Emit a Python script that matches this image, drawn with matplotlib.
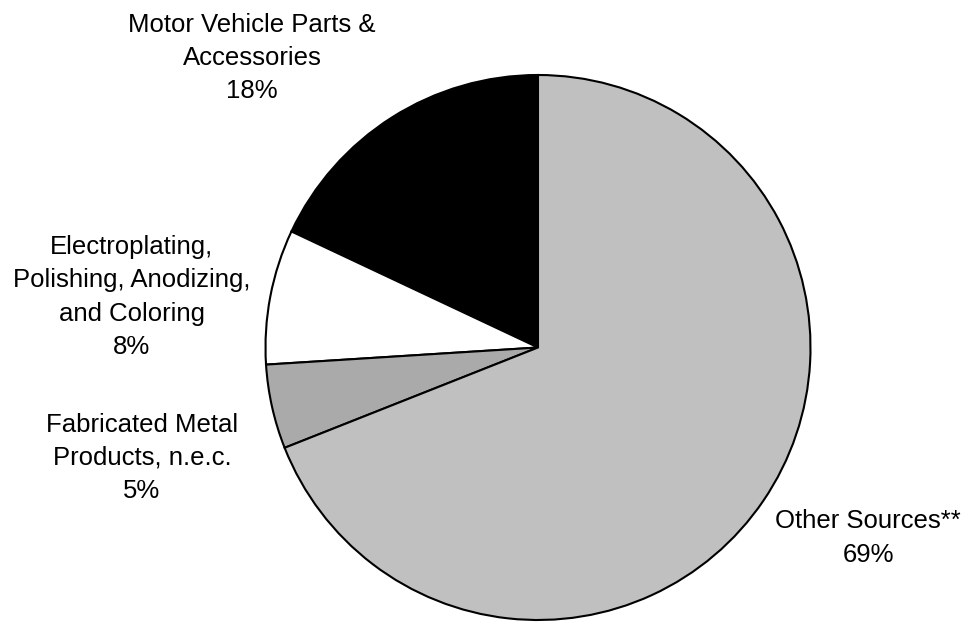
import matplotlib.pyplot as plt

# slices, counterclockwise from 12 o'clock
labels = ['Motor Vehicle Parts &\nAccessories', 'Electroplating,\nPolishing, Anodizing,\nand Coloring',
          'Fabricated Metal\nProducts, n.e.c.', 'Other Sources**']
shares = [18, 8, 5, 69]
colors = ['#000000', '#FFFFFF', '#AAAAAA', '#C0C0C0']
# label centres in pixels (x, y from top)
label_pos = [(252, 58), (132, 297), (142, 458), (868, 538)]

W, H = 965, 622
fig = plt.figure(figsize=(W / 100, H / 100), dpi=100)
cx, cy, r = 538, 347.5, 272.5
ax = fig.add_axes([(cx - r) / W, (H - cy - r) / H, 2 * r / W, 2 * r / H])
wedges, _ = ax.pie(shares, colors=colors, startangle=90, counterclock=True, radius=1,
                   wedgeprops=dict(edgecolor='black', linewidth=1.5))
for w in wedges:
    w.set_clip_on(False)
ax.set_xlim(-1, 1)
ax.set_ylim(-1, 1)
ax.axis('off')

for lab, val, (px, py) in zip(labels, shares, label_pos):
    fig.text(px / W, 1 - py / H, f'{lab}\n{val}%', ha='center', va='center',
             fontsize=18.5, family='Liberation Sans', linespacing=1.5)

plt.savefig('out.png', dpi=100)
